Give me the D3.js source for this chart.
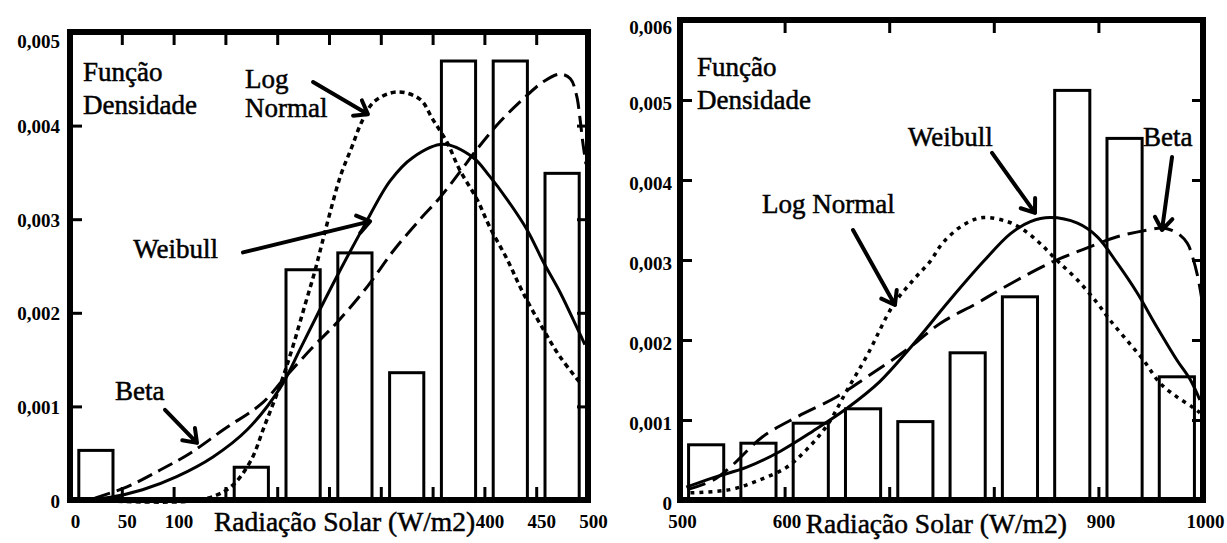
<!DOCTYPE html>
<html><head><meta charset="utf-8">
<script src="https://cdn.jsdelivr.net/npm/d3@7"></script>
<style>
body{margin:0;background:#fff}
svg{display:block}
svg text{font-family:"Liberation Serif","Times New Roman",Times,serif !important;fill:#000}
</style>
</head><body><script>
// ---------------- LEFT PANEL DATA (Radiação 0–500 W/m2) ----------------
const leftBinCenters = [25, 75, 125, 175, 225, 275, 325, 375, 425, 475];
const leftDensity    = [0.00053, 0, 0, 0.00035, 0.00246, 0.00264, 0.00136, 0.00469, 0.00469, 0.00349];
const leftXTicks      = [0, 50, 100, 150, 200, 250, 300, 350, 400, 450, 500];
const leftXTickLabels = [0, 50, 100, 400, 450, 500];
const leftYTicks      = [0, 0.001, 0.002, 0.003, 0.004, 0.005];

const leftLogNormalX = [20,125,154,174,188,203,214,227,236,243,251,261,272,282,294,316,338,350,364,376,393,405,422,437,457,473,494];
const leftLogNormalY = [0,0,0.00013,0.00041,0.0008,0.00123,0.0016,0.00209,0.00243,0.00273,0.00307,0.00346,0.00377,0.00405,0.00426,0.00436,0.00428,0.00407,0.00382,0.00353,0.00321,0.00292,0.00257,0.00222,0.00182,0.00153,0.00123];
const leftWeibullX = [10,39,70,103,138,171,203,222,241,261,283,309,331,360,389,405,422,441,457,473,489,497];
const leftWeibullY = [0,0.00003,0.00011,0.00025,0.00046,0.00075,0.0012,0.00161,0.00203,0.00246,0.00291,0.00341,0.00366,0.0038,0.00366,0.00346,0.00321,0.00289,0.00254,0.00222,0.00185,0.00166];
const leftBetaX = [24,55,87,116,148,186,206,235,258,287,312,338,357,376,393,415,437,457,473,483,489,492,495,498];
const leftBetaY = [0.00002,0.00014,0.00032,0.0005,0.00075,0.00104,0.00129,0.00164,0.0019,0.00228,0.00266,0.003,0.00323,0.0035,0.00375,0.00404,0.00428,0.00447,0.00455,0.0045,0.00432,0.0041,0.00382,0.00359];

// ---------------- RIGHT PANEL DATA (Radiação 500–1000 W/m2) ----------------
const rightBinCenters = [525, 575, 625, 675, 725, 775, 825, 875, 925, 975];
const rightDensity    = [0.00069, 0.00071, 0.00096, 0.00114, 0.00098, 0.00184, 0.00254, 0.00512, 0.00452, 0.00154];
const rightXTicks      = [500, 600, 700, 800, 900, 1000];
const rightXTickLabels = [500, 600, 900, 1000];
const rightYTicks      = [0, 0.001, 0.002, 0.003, 0.004, 0.005, 0.006];

const rightWeibullX = [506,532,564,596,627,660,691,720,758,790,816,835,854,880,899,918,937,956,975,988,997];
const rightWeibullY = [0.00016,0.00028,0.00041,0.00061,0.00086,0.00115,0.00148,0.0019,0.0025,0.00298,0.00333,0.00348,0.00353,0.00346,0.00329,0.00296,0.00259,0.00216,0.00175,0.0015,0.00125];
const rightLogNormalX = [510,548,574,602,621,641,660,679,704,723,739,751,771,790,813,828,844,860,880,899,911,927,943,959,975,990,997];
const rightLogNormalY = [0.00009,0.00013,0.00024,0.00041,0.00063,0.00094,0.00138,0.00181,0.00244,0.00275,0.00298,0.00321,0.00344,0.00353,0.00348,0.00338,0.00321,0.003,0.00275,0.00246,0.00225,0.002,0.00175,0.00146,0.00129,0.00116,0.00109];
const rightBetaX = [507,532,548,579,612,650,679,717,749,784,806,841,860,885,918,949,962,975,985,990,995,999];
const rightBetaY = [0.00013,0.00025,0.00041,0.00079,0.00104,0.00129,0.00154,0.00188,0.00221,0.00246,0.00263,0.00288,0.003,0.00313,0.00329,0.00338,0.0034,0.00334,0.00321,0.00304,0.00279,0.0025];

// ---------------- TEXTS ----------------
const densityTitle = ["Função", "Densidade"];
const xAxisTitle = "Radiação Solar (W/m2)";
const yFormat = d => d === 0 ? "0" : d3.format(".3f")(d).replace(".", ",");
const FONT = "'Liberation Serif','Times New Roman',Times,serif";

const svg = d3.select("body").append("svg").attr("width", 1227).attr("height", 543);

function drawPanel(p) {
  const x = d3.scaleLinear().domain(p.xDomain).range(p.xRange);
  const y = d3.scaleLinear().domain(p.yDomain).range(p.yRange);
  const g = svg.append("g");

  // bars
  const bars = p.centers.map((c, i) => ({c, v: p.values[i]})).filter(d => d.v > 0);
  g.selectAll("rect.bar").data(bars).join("rect").attr("class", "bar")
    .attr("x", d => x(d.c - p.halfW))
    .attr("width", d => x(d.c + p.halfW) - x(d.c - p.halfW))
    .attr("y", d => y(d.v))
    .attr("height", d => y(0) - y(d.v))
    .attr("fill", "none").attr("stroke", "#000").attr("stroke-width", 3);

  // curves
  const line = d3.line().x(d => x(d[0])).y(d => y(d[1])).curve(d3.curveCatmullRom.alpha(0.5));
  p.curves.forEach(c => {
    g.append("path").attr("d", line(d3.zip(c.x, c.y)))
      .attr("fill", "none").attr("stroke", "#000")
      .attr("stroke-width", c.w).attr("stroke-dasharray", c.dash || null)
      .attr("stroke-linejoin", "round");
  });

  // inward ticks on all four sides
  const inner = p.xTicks.slice(1, -1);
  const innerY = p.yTicks.slice(1, -1);
  const tickStyle = s => { s.select(".domain").remove(); s.selectAll("line").attr("stroke", "#000").attr("stroke-width", 3); s.selectAll("text").remove(); };
  g.append("g").attr("transform", `translate(0,${y(p.yDomain[0])})`).call(d3.axisBottom(x).tickValues(inner).tickSize(-13)).call(tickStyle);
  g.append("g").attr("transform", `translate(0,${y(p.yDomain[1])})`).call(d3.axisTop(x).tickValues(inner).tickSize(-13)).call(tickStyle);
  g.append("g").attr("transform", `translate(${x(p.xDomain[0])},0)`).call(d3.axisLeft(y).tickValues(innerY).tickSize(-12)).call(tickStyle);
  g.append("g").attr("transform", `translate(${x(p.xDomain[1])},0)`).call(d3.axisRight(y).tickValues(innerY).tickSize(-11)).call(tickStyle);

  // frame
  g.append("rect")
    .attr("x", x(p.xDomain[0])).attr("y", y(p.yDomain[1]))
    .attr("width", x(p.xDomain[1]) - x(p.xDomain[0]))
    .attr("height", y(p.yDomain[0]) - y(p.yDomain[1]))
    .attr("fill", "none").attr("stroke", "#000").attr("stroke-width", 6);

  // tick labels
  const lab = s => { s.attr("font-family", FONT); s.select(".domain").remove();
    s.selectAll("text").attr("font-size", 19).attr("font-weight", "bold").attr("fill", "#000"); };
  g.append("g").attr("transform", `translate(${p.xLabelShift},${y(p.yDomain[0])})`)
    .call(d3.axisBottom(x).tickValues(p.xLabels).tickSize(0).tickPadding(15).tickFormat(d => d)).call(lab);
  const ya = g.append("g").attr("transform", `translate(${x(p.xDomain[0])},${p.yLabelShift})`)
    .call(d3.axisLeft(y).tickValues(p.yTicks).tickSize(0).tickPadding(p.yPad).tickFormat(yFormat)).call(lab);
  ya.selectAll(".tick").filter(d => d === p.yDomain[1]).select("text").attr("dy", p.topLabelDy);

  // axis title
  g.append("text").attr("x", x(p.titleX)).attr("y", p.titleY).attr("text-anchor", "middle")
    .attr("font-family", FONT).attr("font-size", 27.5)
    .attr("stroke", "#000").attr("stroke-width", 0.5).text(xAxisTitle);

  // annotations
  p.notes.forEach(n => {
    const t = g.append("text").attr("x", x(n.x)).attr("y", y(n.y)).attr("font-size", 27)
      .attr("font-family", FONT).attr("stroke", "#000").attr("stroke-width", 0.5);
    n.text.forEach((s, i) => t.append("tspan").attr("x", x(n.x)).attr("dy", i === 0 ? 0 : n.lh).text(s));
  });
  p.arrows.forEach(a => {
    const x1 = x(a[0]), y1 = y(a[1]), x2 = x(a[2]), y2 = y(a[3]);
    const ang = Math.atan2(y2 - y1, x2 - x1);
    const L = 15, spread = Math.PI / 5;
    const path = d3.path();
    path.moveTo(x1, y1); path.lineTo(x2, y2);
    path.moveTo(x2 - L * Math.cos(ang - spread), y2 - L * Math.sin(ang - spread));
    path.lineTo(x2, y2);
    path.lineTo(x2 - L * Math.cos(ang + spread), y2 - L * Math.sin(ang + spread));
    g.append("path").attr("d", path.toString()).attr("fill", "none").attr("stroke", "#000")
      .attr("stroke-width", 4).attr("stroke-linecap", "round").attr("stroke-linejoin", "round");
  });
}

drawPanel({
  xDomain: [0, 500], xRange: [70, 588],
  yDomain: [0, 0.005], yRange: [500, 32],
  centers: leftBinCenters, values: leftDensity, halfW: 16.5,
  xTicks: leftXTicks, xLabels: leftXTickLabels, xLabelShift: 5,
  yTicks: leftYTicks, yPad: 10, yLabelShift: 1, topLabelDy: "0.75em",
  titleX: 265, titleY: 531,
  curves: [
    {x: leftLogNormalX, y: leftLogNormalY, w: 3.5, dash: "5,4"},
    {x: leftWeibullX, y: leftWeibullY, w: 3},
    {x: leftBetaX, y: leftBetaY, w: 3, dash: "16,7"}
  ],
  notes: [
    {text: densityTitle, x: 12.5, y: 0.00448, lh: 33},
    {text: ["Log", "Normal"], x: 169, y: 0.0044, lh: 29},
    {text: ["Weibull"], x: 61, y: 0.00259},
    {text: ["Beta"], x: 43.5, y: 0.00107}
  ],
  arrows: [
    [234.6, 0.004465, 287.6, 0.004122],
    [167, 0.002645, 289.6, 0.002977],
    [91.7, 0.000964, 122.6, 0.00061]
  ]
});

drawPanel({
  xDomain: [500, 1000], xRange: [680, 1203],
  yDomain: [0, 0.006], yRange: [500, 20],
  centers: rightBinCenters, values: rightDensity, halfW: 16.8,
  xTicks: rightXTicks, xLabels: rightXTickLabels, xLabelShift: 2,
  yTicks: rightYTicks, yPad: 8, yLabelShift: 3, topLabelDy: "0.55em",
  titleX: 745, titleY: 533,
  curves: [
    {x: rightLogNormalX, y: rightLogNormalY, w: 3.5, dash: "4,5"},
    {x: rightWeibullX, y: rightWeibullY, w: 3},
    {x: rightBetaX, y: rightBetaY, w: 3, dash: "19,8"}
  ],
  notes: [
    {text: densityTitle, x: 516.3, y: 0.0053, lh: 33},
    {text: ["Log Normal"], x: 578.4, y: 0.00359},
    {text: ["Weibull"], x: 718, y: 0.00443},
    {text: ["Beta"], x: 942.6, y: 0.00443}
  ],
  arrows: [
    [665.4, 0.003375, 705.5, 0.002438],
    [798.3, 0.004338, 839.4, 0.003588],
    [970.4, 0.004288, 960.8, 0.003375]
  ]
});
</script></body></html>
